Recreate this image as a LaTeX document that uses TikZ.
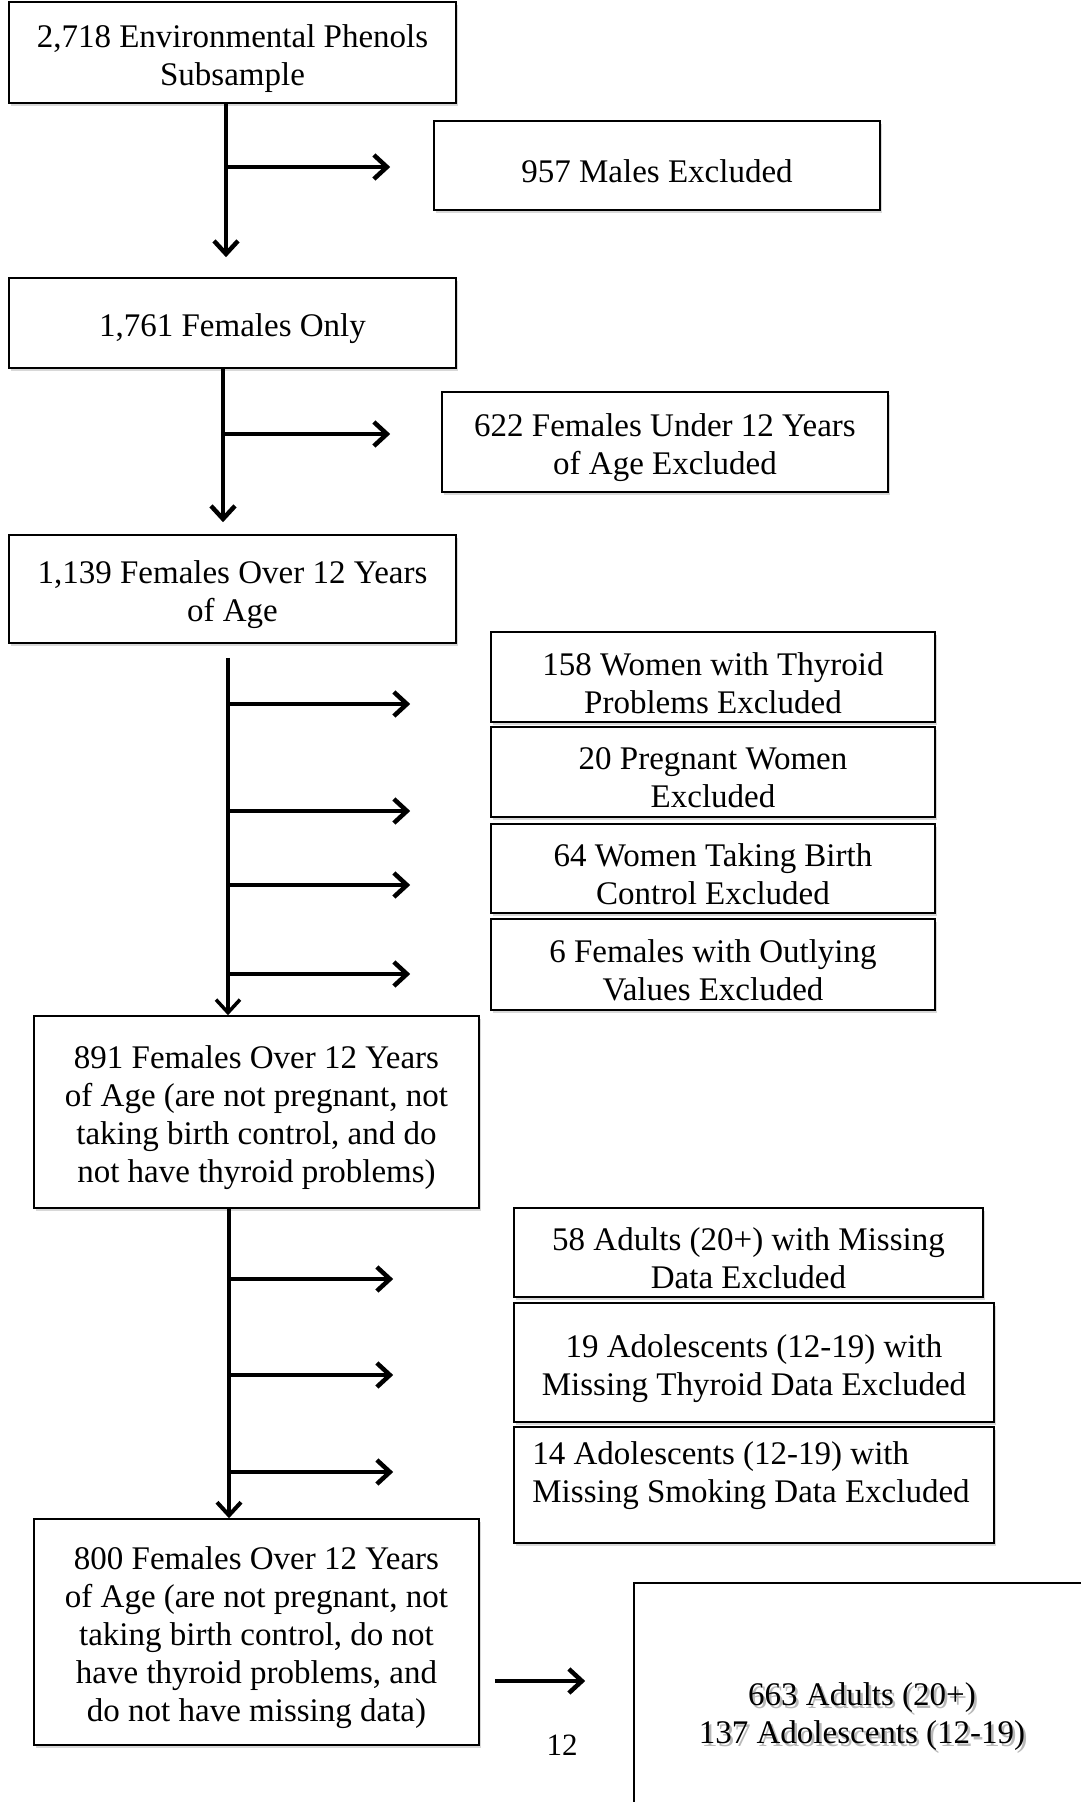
\documentclass[tikz,border=0pt]{standalone}
\usepackage{fontspec}
\setmainfont{Liberation Serif}
\usetikzlibrary{arrows.meta,shadows}
\begin{document}
\begin{tikzpicture}[x=1pt,y=-1pt,
  box/.style={draw, line width=1.6pt, fill=white, inner sep=0pt,
    drop shadow={opacity=0.3, shadow xshift=2pt, shadow yshift=-3pt}},
  lbl/.style={align=center, inner sep=0pt, font=\fontsize{33}{38}\selectfont, yshift=-6pt},
  arr/.style={line width=4.5pt, -{Straight Barb[length=13pt,width=24pt]}}
]
\useasboundingbox (0,0) rectangle (1080,1802);
\fill[white] (0,0) rectangle (1080,1802);

% main column
\node[box, minimum width=447, minimum height=101, label={[lbl]center:{2,718 Environmental Phenols\\Subsample}}] (b1) at (232.5,52.5) {};
\node[box, minimum width=447, minimum height=90, label={[lbl]center:{1,761 Females Only}}] (b2) at (232.5,323) {};
\node[box, minimum width=447, minimum height=108, label={[lbl]center:{1,139 Females Over 12 Years\\of Age}}] (b3) at (232.5,589) {};
\node[box, minimum width=445, minimum height=192, label={[lbl]center:{891 Females Over 12 Years\\of Age (are not pregnant, not\\taking birth control, and do\\not have thyroid problems)}}] (b4) at (256.5,1112) {};
\node[box, minimum width=445, minimum height=226, label={[lbl]center:{800 Females Over 12 Years\\of Age (are not pregnant, not\\taking birth control, do not\\have thyroid problems, and\\do not have missing data)}}] (b5) at (256.5,1632) {};

% exclusion boxes
\node[box, minimum width=446, minimum height=89, label={[lbl]center:{957 Males Excluded}}] (males) at (657,165.5) {};
\node[box, minimum width=446, minimum height=100, label={[lbl]center:{622 Females Under 12 Years\\of Age Excluded}}] (f622) at (665,442) {};
\node[box, minimum width=444, minimum height=90, label={[lbl]center:{158 Women with Thyroid\\Problems Excluded}}] (t158) at (713,677) {};
\node[box, minimum width=444, minimum height=90, label={[lbl]center:{20 Pregnant Women\\Excluded}}] (p20) at (713,772) {};
\node[box, minimum width=444, minimum height=89, label={[lbl]center:{64 Women Taking Birth\\Control Excluded}}] (b64) at (713,868.5) {};
\node[box, minimum width=444, minimum height=91, label={[lbl]center:{6 Females with Outlying\\Values Excluded}}] (o6) at (713,964.5) {};
\node[box, minimum width=469, minimum height=89, label={[lbl]center:{58 Adults (20+) with Missing\\Data Excluded}}] (a58) at (748.5,1252.5) {};
\node[box, minimum width=480, minimum height=119, label={[lbl]center:{19 Adolescents (12-19) with\\Missing Thyroid Data Excluded}}] (a19) at (754,1362.5) {};
\node[box, minimum width=480, minimum height=116,
  label={[anchor=north west, inner sep=0pt, align=left, font=\fontsize{33}{38}\selectfont, xshift=19pt, yshift=-15pt]north west:{14 Adolescents (12-19) with\\Missing Smoking Data Excluded}}] (a14) at (754,1485) {};

% final box
\node[box, minimum width=456, minimum height=257] (fin) at (862,1711.5) {};
\node[align=center, inner sep=0pt, text=black!28, font=\fontsize{33}{38}\selectfont] (finsh) at (864.5,1720) {663 Adults (20+)\\137 Adolescents (12-19)};
\node[align=center, inner sep=0pt, font=\fontsize{33}{38}\selectfont] (fintext) at (862,1717) {663 Adults (20+)\\137 Adolescents (12-19)};
\node[inner sep=0pt, font=\fontsize{31}{36}\selectfont] (pg) at (562,1745) {12};

% step 1
\coordinate (v1) at ([xshift=-6.5pt]b1.south);
\draw[arr] (v1) -- ([xshift=-6.5pt, yshift=20pt]b2.north);
\draw[arr] ([yshift=-1.5pt]males.west -| v1) -- ([xshift=-43pt, yshift=-1.5pt]males.west);

% step 2
\coordinate (v2) at ([xshift=-9.5pt]b2.south);
\draw[arr] (v2) -- ([xshift=-9.5pt, yshift=12pt]b3.north);
\draw[arr] ([yshift=8pt]f622.west -| v2) -- ([xshift=-51pt, yshift=8pt]f622.west);

% step 3
\coordinate (v3) at ([xshift=-4.5pt, yshift=-14pt]b3.south);
\draw[line width=3.5pt, -{Straight Barb[length=13pt,width=24pt]}] (v3) -- (v3 |- b4.north);
\draw[arr] ([yshift=-27pt]t158.west -| v3) -- ([xshift=-80pt, yshift=-27pt]t158.west);
\draw[arr] ([yshift=-39pt]p20.west -| v3) -- ([xshift=-80pt, yshift=-39pt]p20.west);
\draw[arr] ([yshift=-16.5pt]b64.west -| v3) -- ([xshift=-80pt, yshift=-16.5pt]b64.west);
\draw[arr] ([yshift=-9.5pt]o6.west -| v3) -- ([xshift=-80pt, yshift=-9.5pt]o6.west);

% step 4
\coordinate (v4) at ([xshift=-27.5pt]b4.south);
\draw[line width=4pt, -{Straight Barb[length=13pt,width=24pt]}] (v4) -- (v4 |- b5.north);
\draw[arr] ([yshift=-26.5pt]a58.west -| v4) -- ([xshift=-120pt, yshift=-26.5pt]a58.west);
\draw[arr] ([yshift=-12.5pt]a19.west -| v4) -- ([xshift=-120pt, yshift=-12.5pt]a19.west);
\draw[arr] ([yshift=13pt]a14.west -| v4) -- ([xshift=-120pt, yshift=13pt]a14.west);

% step 5
\draw[arr, shorten >=48pt] ([xshift=15pt, yshift=-49pt]b5.east) -- ([yshift=-49pt]b5.east -| fin.west);
\end{tikzpicture}
\end{document}
